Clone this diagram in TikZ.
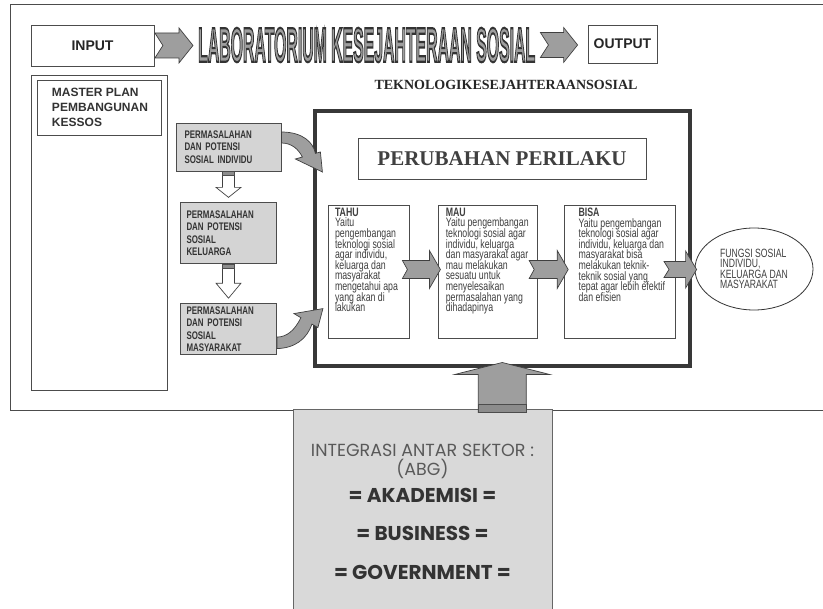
\documentclass[tikz,border=0pt]{standalone}
\usepackage{fontspec}
\setmainfont{Liberation Sans}
\newfontfamily\narrowfont[FakeStretch=0.72]{Liberation Sans}
\newfontfamily\timesfont{Liberation Serif}
\newfontfamily\geofont{Poppins}
\usetikzlibrary{shapes.geometric, positioning, calc}

\definecolor{linegray}{gray}{0.3}
\definecolor{boxgray}{gray}{0.83}
\definecolor{arrowgray}{gray}{0.62}

% notched block arrow: tail, tip, half shaft, half head, head length, notch
\newcommand{\harrow}[6]{%
  \path[blockarrow] let \p1=(#1), \p2=(#2) in
    (\x1,{\y1+#3}) -- ({\x2-#5},{\y1+#3}) -- ({\x2-#5},{\y1+#4}) -- (\x2,\y1)
    -- ({\x2-#5},{\y1-#4}) -- ({\x2-#5},{\y1-#3}) -- (\x1,{\y1-#3}) -- ({\x1+#6},\y1) -- cycle;}
% hollow down arrow: top, tip, half shaft, half head, head length
\newcommand{\varrow}[5]{%
  \path[hollowarrow] let \p1=(#1), \p2=(#2) in
    ({\x2-#3},\y1) -- ({\x2-#3},{\y2+#5}) -- ({\x2-#4},{\y2+#5}) -- (\x2,\y2)
    -- ({\x2+#4},{\y2+#5}) -- ({\x2+#3},{\y2+#5}) -- ({\x2+#3},\y1) -- cycle;
  \path[draw=black!70, fill=black!45, line width=0.6pt] let \p1=(#1), \p2=(#2) in
    ({\x2-#3},\y1) rectangle ({\x2+#3},{\y1-4pt});}

\begin{document}
\begin{tikzpicture}[x=1pt, y=-1pt,
    box/.style={rectangle, draw=linegray, fill=white, line width=0.8pt, inner sep=0pt},
    graybox/.style={rectangle, draw=linegray, fill=boxgray, line width=0.8pt, inner ysep=0pt, align=left, text=black!80, font=\narrowfont\bfseries\fontsize{11}{12.5}\selectfont},
    txtbox/.style={rectangle, draw=linegray, fill=white, line width=0.8pt, inner sep=0pt, text=black!75, font=\narrowfont\fontsize{12.2}{10.6}\selectfont},
    blockarrow/.style={draw=black!75, fill=arrowgray, line width=0.7pt},
    hollowarrow/.style={draw=black!75, fill=white, line width=0.7pt}
]
    \useasboundingbox (0,0) rectangle (823,609);
    \fill[white] (0,0) rectangle (823,609);

    % frame of the laboratory
    \draw[linegray, line width=0.8pt] (10,4) rectangle (826,410);

    \node[box, minimum width=123pt, minimum height=41pt, font=\bfseries\fontsize{14}{16}\selectfont, text=black!85] (input) at (92.5,45.5) {INPUT};
    \node[inner sep=0pt, anchor=west] (title) at (198,45) {\resizebox{337pt}{34pt}{\bfseries\color{arrowgray}\special{pdf:literal direct 0.2 G 0.45 w 2 Tr}LABORATORIUM KESEJAHTERAAN SOSIAL\special{pdf:literal direct 0 Tr}}};
    \node[box, minimum width=69pt, minimum height=38pt, font=\bfseries\fontsize{14}{16}\selectfont, text=black!85] (output) at (622.5,44) {OUTPUT};
    \node[inner sep=0pt, font=\timesfont\bfseries\fontsize{14}{16}\selectfont, text=black!85] (tekno) at (506,85) {TEKNOLOGIKESEJAHTERAANSOSIAL};

    % master plan
    \node[box, minimum width=136pt, minimum height=315pt] (master) at (99,232.5) {};
    \node[box] (masterplan) at (99,107.5) {\parbox[c][55pt][c]{124pt}{\leftskip=15pt\bfseries\fontsize{12}{15}\selectfont\color{black!80}MASTER PLAN\\ PEMBANGUNAN\\ KESSOS}};

    % problems and potentials
    \node[graybox, minimum height=48pt, text width=88pt, inner xsep=8.5pt] (ind) at (228.5,147) {PERMASALAHAN\\ DAN POTENSI\\ SOSIAL INDIVIDU};
    \node[graybox, minimum height=61pt, text width=84pt, inner xsep=6pt, below=31pt of ind] (kel) {PERMASALAHAN\\ DAN POTENSI\\ SOSIAL\\ KELUARGA};
    \node[graybox, minimum height=51pt, text width=84pt, inner xsep=6pt, below=39pt of kel] (mas) {PERMASALAHAN\\ DAN POTENSI\\ SOSIAL\\ MASYARAKAT};

    % behaviour change
    \node[draw=black!78, line width=4pt, minimum width=374.5pt, minimum height=255.5pt, inner sep=0pt] (perilaku) at (502.25,238.75) {};
    \node[box, minimum width=288pt, minimum height=41pt, font=\timesfont\bfseries\fontsize{21}{24}\selectfont, text=black!75] (perubahan) at (502,158.5) {PERUBAHAN PERILAKU};

    \node[txtbox] (tahu) at (368.5,271.5) {\parbox[c][133pt][t]{81pt}{\lineskiplimit=-20pt\leftskip=7pt\vspace*{3pt}\textbf{TAHU}\\ Yaitu\\ pengembangan\\ teknologi sosial\\ agar individu,\\ keluarga dan\\ masyarakat\\ mengetahui apa\\ yang akan di\\ lakukan}};
    \node[txtbox, right=29pt of tahu] (mau) {\parbox[c][133pt][t]{99pt}{\lineskiplimit=-20pt\leftskip=7pt\vspace*{3pt}\textbf{MAU}\\ Yaitu pengembangan\\ teknologi sosial agar\\ individu, keluarga\\ dan masyarakat agar\\ mau melakukan\\ sesuatu untuk\\ menyelesaikan\\ permasalahan yang\\ dihadapinya}};
    \node[txtbox, right=26pt of mau] (bisa) {\parbox[c][133pt][t]{111pt}{\lineskiplimit=-20pt\leftskip=14pt\vspace*{3pt}\textbf{BISA}\\ Yaitu pengembangan\\ teknologi sosial agar\\ individu, keluarga dan\\ masyarakat bisa\\ melakukan teknik-\\ teknik sosial yang\\ tepat agar lebih efektif\\ dan efisien}};

    \node[ellipse, draw=black!80, line width=0.8pt, minimum width=118pt, minimum height=82pt, inner sep=0pt, align=left, font={\narrowfont\fontsize{12}{10.5}\selectfont\lineskiplimit=-20pt}, text=black!75] (fungsi) at (754,269) {FUNGSI SOSIAL\\ INDIVIDU,\\ KELUARGA DAN\\ MASYARAKAT};

    % integration between sectors
    \node[rectangle, draw=black!60, fill=black!15, line width=0.8pt, minimum width=259pt, minimum height=206pt, align=center, text=black!65, font=\geofont\fontsize{17.5}{19}\selectfont] (abg) at (422.5,512) {INTEGRASI ANTAR SEKTOR :\\ (ABG)\\[8pt] {\fontsize{20}{19}\selectfont\bfseries\color{black!80}= AKADEMISI =}\\[19pt] {\fontsize{20}{19}\selectfont\bfseries\color{black!80}= BUSINESS =}\\[20pt] {\fontsize{20}{19}\selectfont\bfseries\color{black!80}= GOVERNMENT =}};

    % arrows
    \harrow{$(input.east)+(0.5,0)$}{$(title.west)+(-5,0)$}{12.5pt}{17.5pt}{14pt}{8pt}
    \harrow{$(title.east)+(5,0)$}{$(output.west)+(-10,0)$}{12.5pt}{17.5pt}{14pt}{8pt}
    \harrow{$(tahu.east)+(-7,-2)$}{$(mau.west)+(2,0)$}{9pt}{19pt}{11pt}{5pt}
    \harrow{$(mau.east)+(-9,-2)$}{$(bisa.west)+(4,0)$}{9pt}{19pt}{11pt}{5pt}
    \harrow{$(bisa.east)+(-12,-2)$}{$(fungsi.west)+(2,0)$}{8pt}{18.5pt}{11pt}{5pt}

    \varrow{ind.south}{$(kel.north)+(0,-5)$}{6pt}{12.5pt}{10pt}
    \varrow{kel.south}{$(mas.north)+(0,-5)$}{6pt}{12.5pt}{15pt}

    \begin{scope}[shift={(ind.east)}]
        \path[blockarrow] (0,-15) .. controls (22,-15) and (32,-4) .. (34,6.4) -- (39,5) -- (41,25) -- (14,12) -- (21,10) .. controls (17,2) and (10,-4) .. (0,-4) -- cycle;
    \end{scope}
    \begin{scope}[shift={(mas.east)}]
        \path[blockarrow] (0,19.5) .. controls (18,19) and (30,10) .. (35,-5) -- (41,-1.5) -- (46,-20.5) -- (17,-15.5) -- (24,-11.4) .. controls (18,1) and (10,8) .. (0,8) -- cycle;
    \end{scope}

    \path[blockarrow] let \p1=($(perilaku.south)+(0,-6)$), \p2=(abg.north) in
        ({\x1-24pt},{\y2-4pt}) -- ({\x1-24pt},{\y1-12pt}) -- ({\x1-47.5pt},{\y1-12pt}) -- (\x1,\y1)
        -- ({\x1+47.5pt},{\y1-12pt}) -- ({\x1+24pt},{\y1-12pt}) -- ({\x1+24pt},{\y2-4pt}) -- cycle;
    \path[draw=black!70, fill=black!45, line width=0.6pt] let \p1=(perilaku.south), \p2=(abg.north) in
        ({\x1-24pt},{\y2-4pt}) rectangle ({\x1+24pt},{\y2+4pt});
\end{tikzpicture}
\end{document}
